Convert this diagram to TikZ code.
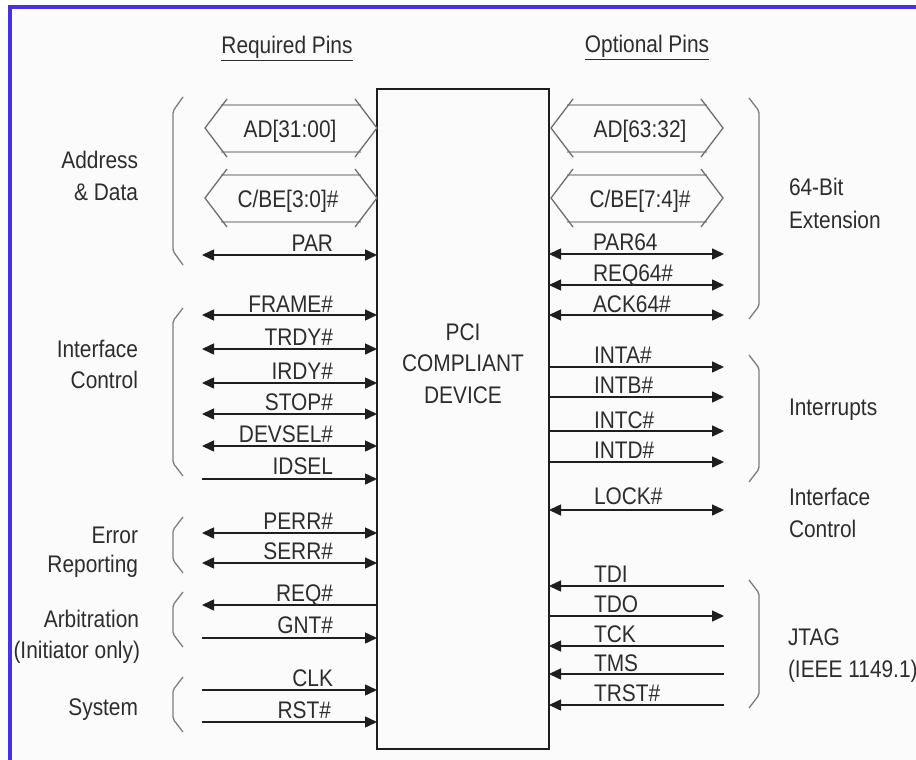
\documentclass[tikz,border=0pt]{standalone}
\usepackage{fontspec}
\setmainfont{Liberation Sans}[FakeStretch=0.87]
\usetikzlibrary{arrows.meta}
\definecolor{frameblue}{RGB}{72,48,230}
\definecolor{bgpaper}{RGB}{250,251,250}
\definecolor{txt}{RGB}{45,45,45}
\definecolor{wire}{RGB}{30,30,30}
\definecolor{brk}{RGB}{125,125,125}
\definecolor{busline}{RGB}{110,110,110}
\begin{document}
\begin{tikzpicture}[x=1pt,y=-1pt,
  every node/.style={font=\fontsize{24}{28}\selectfont, text=txt, inner sep=0pt, outer sep=0pt},
  >={Triangle[length=12pt,width=11pt]},
  sig/.style={draw=wire, line width=1.5pt},
  lt/.style={anchor=base east},
  rt/.style={anchor=base west},
  grp/.style={draw=brk, line width=1.3pt, rounded corners=2pt},
  busedge/.style={draw=busline, line width=0.9pt, double=black!30, double distance=1.1pt},
  buschev/.style={draw=busline, line width=1.3pt},
  hdr/.style={anchor=base}]
\useasboundingbox (0,0) rectangle (916,760);
\fill[white] (0,0) rectangle (916,760);
\fill[bgpaper] (10,7) rectangle (916,760);
\draw[frameblue, line width=4pt] (10,760) -- (10,7) -- (916,7);

% headers
\node[hdr] (hreq) at (287,54) {\underline{Required Pins}};
\node[hdr] (hopt) at (647,53) {\underline{Optional Pins}};

% device
\node[draw=wire, line width=1.6pt, minimum width=172pt, minimum height=660pt] (dev) at (463,419) {};
\node[hdr] (d1) at (463,340) {PCI};
\node[hdr] (d2) at (463,371) {COMPLIANT};
\node[hdr] (d3) at (463,403) {DEVICE};

% bus shapes
\tikzset{bus/.pic={
  \draw[busedge] (16,-23) -- (156,-23);
  \draw[busedge] (16,24) -- (156,24);
  \draw[buschev] (22,-29) -- (0,0) -- (22,29);
  \draw[buschev] (150,-29) -- (172,0) -- (150,29);
}}
\pic at (205,128) {bus};
\pic at (205,198) {bus};
\pic at (551,128) {bus};
\pic at (551,198) {bus};
\node[hdr] (tAD) at (290,137) {AD[31:00]};
\node[hdr] (tCBE) at (288,207) {C/BE[3:0]\#};
\node[hdr] (tAD64) at (640,137) {AD[63:32]};
\node[hdr] (tCBE74) at (640,207) {C/BE[7:4]\#};

% left pins
\coordinate (pPAR) at (202,255);
\coordinate (pFRAME) at (202,315);
\coordinate (pTRDY) at (202,349);
\coordinate (pIRDY) at (202,383);
\coordinate (pSTOP) at (202,414);
\coordinate (pDEVSEL) at (202,446);
\coordinate (pIDSEL) at (202,479);
\coordinate (pPERR) at (202,533);
\coordinate (pSERR) at (202,563);
\coordinate (pREQ) at (202,605);
\coordinate (pGNT) at (202,638);
\coordinate (pCLK) at (202,690);
\coordinate (pRST) at (202,722);
\draw[sig,<->] (pPAR) -- (pPAR -| dev.west);
\draw[sig,<->] (pFRAME) -- (pFRAME -| dev.west);
\draw[sig,<->] (pTRDY) -- (pTRDY -| dev.west);
\draw[sig,<->] (pIRDY) -- (pIRDY -| dev.west);
\draw[sig,<->] (pSTOP) -- (pSTOP -| dev.west);
\draw[sig,<->] (pDEVSEL) -- (pDEVSEL -| dev.west);
\draw[sig,->] (pIDSEL) -- (pIDSEL -| dev.west);
\draw[sig,<->] (pPERR) -- (pPERR -| dev.west);
\draw[sig,<->] (pSERR) -- (pSERR -| dev.west);
\draw[sig,->] (pREQ -| dev.west) -- (pREQ);
\draw[sig,->] (pGNT) -- (pGNT -| dev.west);
\draw[sig,->] (pCLK) -- (pCLK -| dev.west);
\draw[sig,->] (pRST) -- (pRST -| dev.west);
\node[lt] (tPAR) at (333,251) {PAR};
\node[lt] (tFRAME) at (333,312) {FRAME\#};
\node[lt] (tTRDY) at (333,345) {TRDY\#};
\node[lt] (tIRDY) at (333,379) {IRDY\#};
\node[lt] (tSTOP) at (333,410) {STOP\#};
\node[lt] (tDEVSEL) at (333,442) {DEVSEL\#};
\node[lt] (tIDSEL) at (333,474) {IDSEL};
\node[lt] (tPERR) at (333,529) {PERR\#};
\node[lt] (tSERR) at (333,559) {SERR\#};
\node[lt] (tREQ) at (333,601) {REQ\#};
\node[lt] (tGNT) at (333,633) {GNT\#};
\node[lt] (tCLK) at (333,686) {CLK};
\node[lt] (tRST) at (331,718) {RST\#};

% right pins
\coordinate (pPAR64) at (724,254);
\coordinate (pREQ64) at (724,285);
\coordinate (pACK64) at (724,315);
\coordinate (pINTA) at (724,367);
\coordinate (pINTB) at (724,397);
\coordinate (pINTC) at (724,431);
\coordinate (pINTD) at (724,462);
\coordinate (pLOCK) at (724,510);
\coordinate (pTDI) at (724,586);
\coordinate (pTDO) at (724,616);
\coordinate (pTCK) at (724,646);
\coordinate (pTMS) at (724,674);
\coordinate (pTRST) at (724,705);
\draw[sig,<->] (pPAR64 -| dev.east) -- (pPAR64);
\draw[sig,<->] (pREQ64 -| dev.east) -- (pREQ64);
\draw[sig,<->] (pACK64 -| dev.east) -- (pACK64);
\draw[sig,->] (pINTA -| dev.east) -- (pINTA);
\draw[sig,->] (pINTB -| dev.east) -- (pINTB);
\draw[sig,->] (pINTC -| dev.east) -- (pINTC);
\draw[sig,->] (pINTD -| dev.east) -- (pINTD);
\draw[sig,<->] (pLOCK -| dev.east) -- (pLOCK);
\draw[sig,->] (pTDI) -- (pTDI -| dev.east);
\draw[sig,->] (pTDO -| dev.east) -- (pTDO);
\draw[sig,->] (pTCK) -- (pTCK -| dev.east);
\draw[sig,->] (pTMS) -- (pTMS -| dev.east);
\draw[sig,->] (pTRST) -- (pTRST -| dev.east);
\node[rt] (tPAR64) at (593,250) {PAR64};
\node[rt] (tREQ64) at (593,281) {REQ64\#};
\node[rt] (tACK64) at (593,312) {ACK64\#};
\node[rt] (tINTA) at (594,363) {INTA\#};
\node[rt] (tINTB) at (594,393) {INTB\#};
\node[rt] (tINTC) at (594,428) {INTC\#};
\node[rt] (tINTD) at (594,458) {INTD\#};
\node[rt] (tLOCK) at (594,504) {LOCK\#};
\node[rt] (tTDI) at (594,582) {TDI};
\node[rt] (tTDO) at (594,612) {TDO};
\node[rt] (tTCK) at (594,642) {TCK};
\node[rt] (tTMS) at (594,671) {TMS};
\node[rt] (tTRST) at (594,701) {TRST\#};

% left group brackets
\draw[grp] (183,97) -- (173,111) -- (173,251) -- (183,265);
\draw[grp] (183,308) -- (173,321) -- (173,463) -- (183,476);
\draw[grp] (183,517) -- (173,530) -- (173,560) -- (183,573);
\draw[grp] (183,592) -- (173,605) -- (173,634) -- (183,647);
\draw[grp] (183,677) -- (173,690) -- (173,719) -- (183,732);
% right group brackets
\draw[grp] (749,98) -- (759,111) -- (759,306) -- (749,319);
\draw[grp] (749,355) -- (759,368) -- (759,469) -- (749,482);
\draw[grp] (749,580) -- (759,593) -- (759,695) -- (749,708);

% group labels left
\node[lt] (gAD1) at (138,168) {Address};
\node[lt] (gAD2) at (138,200) {\& Data};
\node[lt] (gIC1) at (138,357) {Interface};
\node[lt] (gIC2) at (138,388) {Control};
\node[lt] (gER1) at (138,543) {Error};
\node[lt] (gER2) at (138,572) {Reporting};
\node[lt] (gAR1) at (139,627) {Arbitration};
\node[lt] (gAR2) at (140,658) {(Initiator only)};
\node[lt] (gSY) at (138,715) {System};
% group labels right
\node[rt] (g64a) at (789,195) {64-Bit};
\node[rt] (g64b) at (789,228) {Extension};
\node[rt] (gINT) at (789,415) {Interrupts};
\node[rt] (gIC3) at (789,505) {Interface};
\node[rt] (gIC4) at (789,537) {Control};
\node[rt] (gJT1) at (788,645) {JTAG};
\node[rt] (gJT2) at (788,677) {(IEEE 1149.1)};
\end{tikzpicture}
\end{document}
